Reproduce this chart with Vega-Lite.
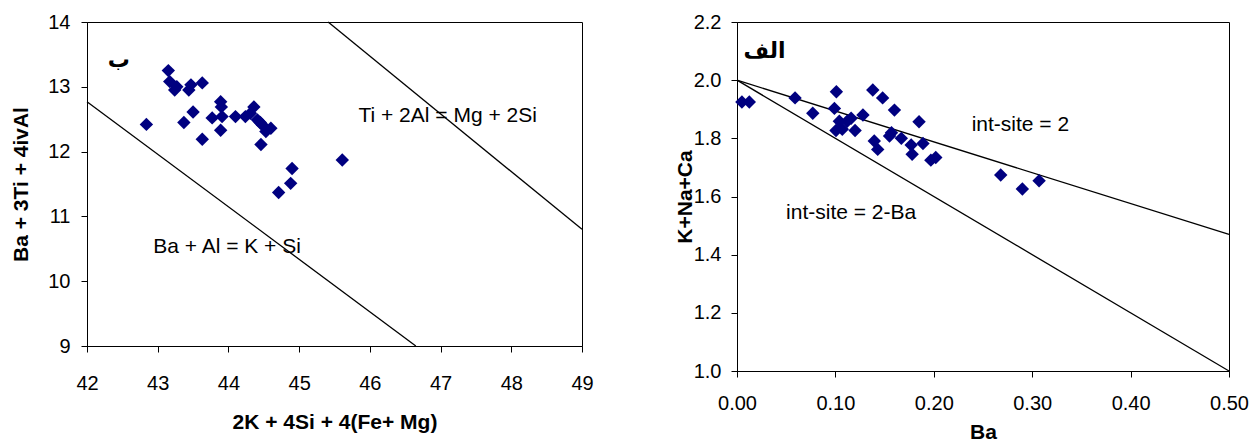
{
  "$schema": "https://vega.github.io/schema/vega-lite/v6.json",
  "background": "white",
  "padding": {"left": 9, "top": 11, "right": 5, "bottom": 0},
  "bounds": "flush",
  "spacing": 155,
  "config": {
    "view": {"stroke": "black", "strokeWidth": 1},
    "axis": {"grid": false, "domainColor": "black", "tickColor": "black", "labelColor": "black", "titleColor": "black",
      "labelFont": "Liberation Sans", "titleFont": "Liberation Sans", "labelFontSize": 20, "titleFontSize": 21,
      "titleFontWeight": "bold", "tickSize": 6, "labelFontWeight": "normal", "labelFlush": false, "labelOverlap": false}
  },
  "datasets": {
    "lpts": [
      {"x": 43.15, "y": 13.25}, {"x": 43.17, "y": 13.08}, {"x": 43.24, "y": 12.95}, {"x": 43.27, "y": 13.0},
      {"x": 43.44, "y": 12.95}, {"x": 43.47, "y": 13.03}, {"x": 43.63, "y": 13.06}, {"x": 42.84, "y": 12.42},
      {"x": 43.37, "y": 12.45}, {"x": 43.5, "y": 12.61}, {"x": 43.63, "y": 12.19}, {"x": 43.77, "y": 12.52},
      {"x": 43.89, "y": 12.77}, {"x": 43.91, "y": 12.54}, {"x": 43.89, "y": 12.33}, {"x": 43.9, "y": 12.69},
      {"x": 44.1, "y": 12.54}, {"x": 44.24, "y": 12.54}, {"x": 44.36, "y": 12.69}, {"x": 44.31, "y": 12.59},
      {"x": 44.41, "y": 12.49}, {"x": 44.48, "y": 12.41}, {"x": 44.6, "y": 12.36}, {"x": 44.53, "y": 12.31},
      {"x": 44.46, "y": 12.11}, {"x": 45.61, "y": 11.87}, {"x": 44.9, "y": 11.74}, {"x": 44.88, "y": 11.51},
      {"x": 44.71, "y": 11.37}, {"x": 44.45, "y": 12.45}
    ],
    "llines": [
      {"x1": 42, "y1": 12.77, "x2": 46.65, "y2": 9},
      {"x1": 45.41, "y1": 14, "x2": 49, "y2": 10.8}
    ],
    "ltext": [
      {"x": 47.1, "y": 12.545, "label": "Ti + 2Al = Mg + 2Si"},
      {"x": 43.98, "y": 10.53, "label": "Ba + Al = K + Si"}
    ],
    "larabic": [{"x": 42.45, "y": 13.41, "label": "ب"}],
    "rpts": [
      {"x": 0.005, "y": 1.925}, {"x": 0.0125, "y": 1.925}, {"x": 0.059, "y": 1.939}, {"x": 0.077, "y": 1.886},
      {"x": 0.101, "y": 1.96}, {"x": 0.099, "y": 1.903}, {"x": 0.104, "y": 1.859}, {"x": 0.1006, "y": 1.827},
      {"x": 0.107, "y": 1.831}, {"x": 0.112, "y": 1.859}, {"x": 0.116, "y": 1.869}, {"x": 0.12, "y": 1.827},
      {"x": 0.128, "y": 1.88}, {"x": 0.138, "y": 1.966}, {"x": 0.148, "y": 1.939}, {"x": 0.16, "y": 1.897},
      {"x": 0.1395, "y": 1.791}, {"x": 0.143, "y": 1.762}, {"x": 0.155, "y": 1.808}, {"x": 0.157, "y": 1.819},
      {"x": 0.167, "y": 1.8}, {"x": 0.177, "y": 1.777}, {"x": 0.178, "y": 1.745}, {"x": 0.185, "y": 1.857},
      {"x": 0.189, "y": 1.782}, {"x": 0.197, "y": 1.725}, {"x": 0.202, "y": 1.734}, {"x": 0.268, "y": 1.674},
      {"x": 0.29, "y": 1.626}, {"x": 0.307, "y": 1.654}
    ],
    "rlines": [
      {"x1": 0, "y1": 2.0, "x2": 0.5, "y2": 1.47},
      {"x1": 0, "y1": 2.0, "x2": 0.5, "y2": 1.0}
    ],
    "rtext": [
      {"x": 0.288, "y": 1.846, "label": "int-site = 2"},
      {"x": 0.116, "y": 1.544, "label": "int-site = 2-Ba"}
    ],
    "rarabic": [{"x": 0.028, "y": 2.1, "label": "الف"}]
  },
  "hconcat": [
    {
      "width": 495,
      "height": 324,
      "layer": [
        {
          "data": {"name": "llines"},
          "mark": {"type": "rule", "color": "black", "strokeWidth": 1.3},
          "encoding": {
            "x": {"field": "x1", "type": "quantitative", "scale": {"domain": [42, 49], "nice": false, "zero": false},
              "axis": {"values": [42, 43, 44, 45, 46, 47, 48, 49], "format": "d", "title": "2K + 4Si + 4(Fe+ Mg)", "labelPadding": 21, "titleY": 76, "titleBaseline": "middle"}},
            "y": {"field": "y1", "type": "quantitative", "scale": {"domain": [9, 14], "nice": false, "zero": false},
              "axis": {"values": [9, 10, 11, 12, 13, 14], "format": "d", "title": "Ba + 3Ti + 4ivAl", "labelPadding": 11, "titleX": -66, "titleBaseline": "middle"}},
            "x2": {"field": "x2"},
            "y2": {"field": "y2"}
          }
        },
        {
          "data": {"name": "lpts"},
          "mark": {"type": "point", "shape": "diamond", "filled": true, "color": "#000080", "size": 180, "opacity": 1},
          "encoding": {
            "x": {"field": "x", "type": "quantitative"},
            "y": {"field": "y", "type": "quantitative"}
          }
        },
        {
          "data": {"name": "ltext"},
          "mark": {"type": "text", "font": "Liberation Sans", "fontSize": 21, "color": "black"},
          "encoding": {
            "x": {"field": "x", "type": "quantitative"},
            "y": {"field": "y", "type": "quantitative"},
            "text": {"field": "label"}
          }
        },
        {
          "data": {"name": "larabic"},
          "mark": {"type": "text", "font": "DejaVu Sans", "fontWeight": "bold", "fontSize": 22, "color": "black"},
          "encoding": {
            "x": {"field": "x", "type": "quantitative"},
            "y": {"field": "y", "type": "quantitative"},
            "text": {"field": "label"}
          }
        }
      ]
    },
    {
      "width": 492,
      "height": 349,
      "layer": [
        {
          "data": {"name": "rlines"},
          "mark": {"type": "rule", "color": "black", "strokeWidth": 1.3},
          "encoding": {
            "x": {"field": "x1", "type": "quantitative", "scale": {"domain": [0, 0.5], "nice": false, "zero": false},
              "axis": {"values": [0, 0.1, 0.2, 0.3, 0.4, 0.5], "format": ".2f", "title": "Ba", "labelPadding": 16, "titleY": 61, "titleBaseline": "middle"}},
            "y": {"field": "y1", "type": "quantitative", "scale": {"domain": [1.0, 2.2], "nice": false, "zero": false},
              "axis": {"values": [1.0, 1.2, 1.4, 1.6, 1.8, 2.0, 2.2], "format": ".1f", "title": "K+Na+Ca", "labelPadding": 10, "titleX": -52, "titleBaseline": "middle"}},
            "x2": {"field": "x2"},
            "y2": {"field": "y2"}
          }
        },
        {
          "data": {"name": "rpts"},
          "mark": {"type": "point", "shape": "diamond", "filled": true, "color": "#000080", "size": 180, "opacity": 1},
          "encoding": {
            "x": {"field": "x", "type": "quantitative"},
            "y": {"field": "y", "type": "quantitative"}
          }
        },
        {
          "data": {"name": "rtext"},
          "mark": {"type": "text", "font": "Liberation Sans", "fontSize": 21, "color": "black"},
          "encoding": {
            "x": {"field": "x", "type": "quantitative"},
            "y": {"field": "y", "type": "quantitative"},
            "text": {"field": "label"}
          }
        },
        {
          "data": {"name": "rarabic"},
          "mark": {"type": "text", "font": "DejaVu Sans", "fontWeight": "bold", "fontSize": 22, "color": "black"},
          "encoding": {
            "x": {"field": "x", "type": "quantitative"},
            "y": {"field": "y", "type": "quantitative"},
            "text": {"field": "label"}
          }
        }
      ]
    }
  ]
}
